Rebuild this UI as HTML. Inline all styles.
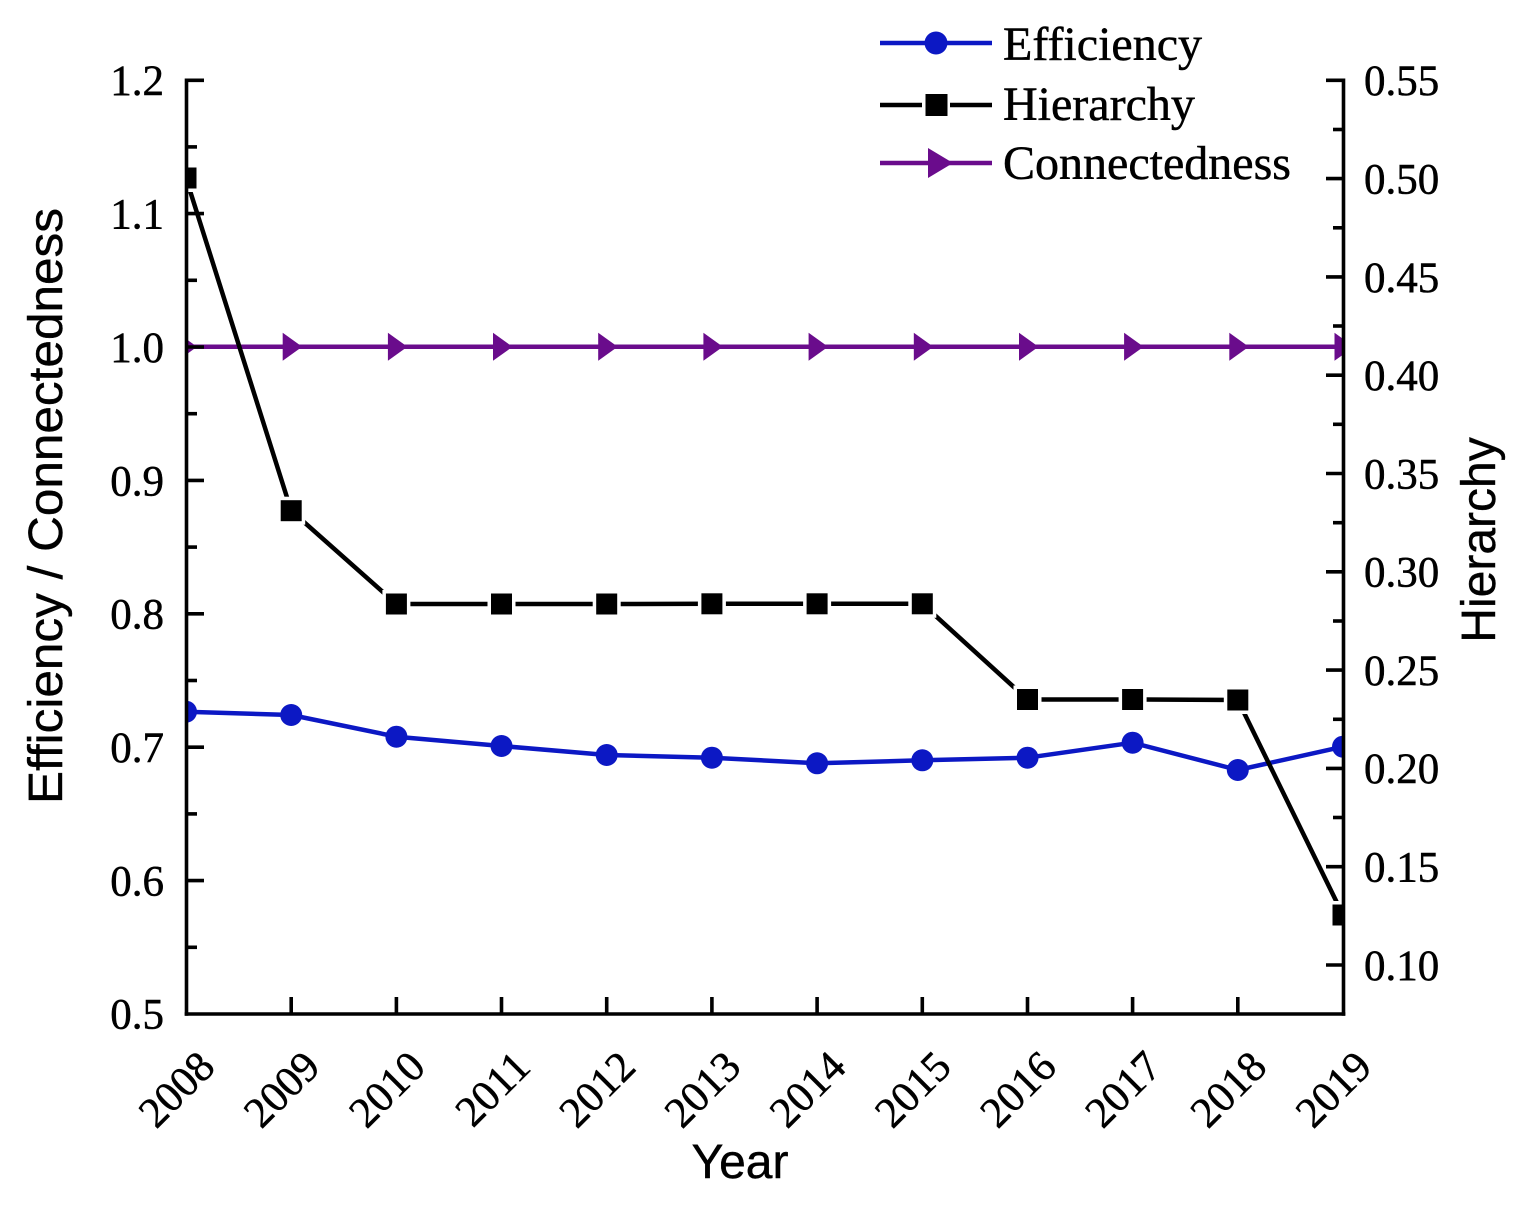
<!DOCTYPE html>
<html>
<head>
<meta charset="utf-8">
<style>
  html, body { margin:0; padding:0; background:#ffffff; }
  svg { display:block; }
  .tk { font-family: "Liberation Serif", "Times New Roman", serif; font-size:43px; fill:#000; stroke:#000; stroke-width:0.5; }
  .lg { font-family: "Liberation Serif", "Times New Roman", serif; font-size:48px; fill:#000; stroke:#000; stroke-width:0.5; }
  .ttl { font-family: "Liberation Sans", Arial, sans-serif; font-size:48px; fill:#000; stroke:#000; stroke-width:0.4; }
</style>
</head>
<body>
<svg width="1527" height="1214" viewBox="0 0 1527 1214" xmlns="http://www.w3.org/2000/svg">
  <defs>
    <clipPath id="plot">
      <rect x="186" y="0" width="1157.5" height="1014"/>
    </clipPath>
  </defs>
  <rect width="1527" height="1214" fill="#fff"/>

  <g clip-path="url(#plot)">
    <!-- Connectedness -->
    <g fill="#6a0c8c" stroke="none">
      <line x1="186" y1="346.8" x2="1343" y2="346.8" stroke="#6a0c8c" stroke-width="4.5"/>
      <polygon points="177.5,332.8 177.5,360.8 197,346.8"/>
      <polygon points="282.7,332.8 282.7,360.8 302.2,346.8"/>
      <polygon points="387.9,332.8 387.9,360.8 407.4,346.8"/>
      <polygon points="493,332.8 493,360.8 512.5,346.8"/>
      <polygon points="598.2,332.8 598.2,360.8 617.7,346.8"/>
      <polygon points="703.4,332.8 703.4,360.8 722.9,346.8"/>
      <polygon points="808.6,332.8 808.6,360.8 828.1,346.8"/>
      <polygon points="913.8,332.8 913.8,360.8 933.3,346.8"/>
      <polygon points="1019,332.8 1019,360.8 1038.5,346.8"/>
      <polygon points="1124.1,332.8 1124.1,360.8 1143.6,346.8"/>
      <polygon points="1229.3,332.8 1229.3,360.8 1248.8,346.8"/>
      <polygon points="1334.5,332.8 1334.5,360.8 1354,346.8"/>
    </g>

    <!-- Efficiency -->
    <polyline fill="none" stroke="#0c18c4" stroke-width="4.5" stroke-linejoin="round"
      points="186,711.7 291.2,715 396.4,736.7 501.5,746 606.7,755 711.9,757.7 817.1,763.3 922.3,760.3 1027.5,757.7 1132.6,742.7 1237.8,770 1343,746.7"/>
    <g fill="#0c18c4">
      <circle cx="186" cy="711.7" r="11"/>
      <circle cx="291.2" cy="715" r="11"/>
      <circle cx="396.4" cy="736.7" r="11"/>
      <circle cx="501.5" cy="746" r="11"/>
      <circle cx="606.7" cy="755" r="11"/>
      <circle cx="711.9" cy="757.7" r="11"/>
      <circle cx="817.1" cy="763.3" r="11"/>
      <circle cx="922.3" cy="760.3" r="11"/>
      <circle cx="1027.5" cy="757.7" r="11"/>
      <circle cx="1132.6" cy="742.7" r="11"/>
      <circle cx="1237.8" cy="770" r="11"/>
      <circle cx="1343" cy="746.7" r="11"/>
    </g>

    <!-- Hierarchy -->
    <polyline fill="none" stroke="#000" stroke-width="4.5" stroke-linejoin="miter"
      points="186,178 291.2,510.7 396.4,604 501.5,604 606.7,604 711.9,603.8 817.1,603.8 922.3,603.8 1027.5,699.5 1132.6,699.5 1237.8,700 1343,915"/>
    <g fill="#fff">
      <rect x="172" y="164" width="28" height="28"/>
      <rect x="277.2" y="496.7" width="28" height="28"/>
      <rect x="382.4" y="590" width="28" height="28"/>
      <rect x="487.5" y="590" width="28" height="28"/>
      <rect x="592.7" y="590" width="28" height="28"/>
      <rect x="697.9" y="589.8" width="28" height="28"/>
      <rect x="803.1" y="589.8" width="28" height="28"/>
      <rect x="908.3" y="589.8" width="28" height="28"/>
      <rect x="1013.5" y="685.5" width="28" height="28"/>
      <rect x="1118.6" y="685.5" width="28" height="28"/>
      <rect x="1223.8" y="686" width="28" height="28"/>
      <rect x="1329" y="901" width="28" height="28"/>
    </g>
    <g fill="#000">
      <rect x="175.5" y="167.5" width="21" height="21"/>
      <rect x="280.7" y="500.2" width="21" height="21"/>
      <rect x="385.9" y="593.5" width="21" height="21"/>
      <rect x="491" y="593.5" width="21" height="21"/>
      <rect x="596.2" y="593.5" width="21" height="21"/>
      <rect x="701.4" y="593.3" width="21" height="21"/>
      <rect x="806.6" y="593.3" width="21" height="21"/>
      <rect x="911.8" y="593.3" width="21" height="21"/>
      <rect x="1017" y="689" width="21" height="21"/>
      <rect x="1122.1" y="689" width="21" height="21"/>
      <rect x="1227.3" y="689.5" width="21" height="21"/>
      <rect x="1332.5" y="904.5" width="21" height="21"/>
    </g>
  </g>

  <!-- Axes -->
  <g stroke="#000" stroke-width="3.6" fill="none" stroke-linecap="butt">
    <line x1="186.5" y1="78.5" x2="186.5" y2="1015.8"/>
    <line x1="184.7" y1="1014" x2="1345.3" y2="1014"/>
    <line x1="1343.5" y1="78.5" x2="1343.5" y2="1015.8"/>
    <!-- left major ticks -->
    <line x1="186" y1="80.3" x2="204" y2="80.3"/>
    <line x1="186" y1="213.6" x2="204" y2="213.6"/>
    <line x1="186" y1="347" x2="204" y2="347"/>
    <line x1="186" y1="480.4" x2="204" y2="480.4"/>
    <line x1="186" y1="613.8" x2="204" y2="613.8"/>
    <line x1="186" y1="747.2" x2="204" y2="747.2"/>
    <line x1="186" y1="880.6" x2="204" y2="880.6"/>
    <!-- left minor ticks -->
    <line x1="186" y1="146.9" x2="197" y2="146.9"/>
    <line x1="186" y1="280.3" x2="197" y2="280.3"/>
    <line x1="186" y1="413.7" x2="197" y2="413.7"/>
    <line x1="186" y1="547.1" x2="197" y2="547.1"/>
    <line x1="186" y1="680.5" x2="197" y2="680.5"/>
    <line x1="186" y1="813.9" x2="197" y2="813.9"/>
    <line x1="186" y1="947.3" x2="197" y2="947.3"/>
    <!-- right major ticks -->
    <line x1="1344" y1="80.3" x2="1326" y2="80.3"/>
    <line x1="1344" y1="178.6" x2="1326" y2="178.6"/>
    <line x1="1344" y1="276.9" x2="1326" y2="276.9"/>
    <line x1="1344" y1="375.2" x2="1326" y2="375.2"/>
    <line x1="1344" y1="473.5" x2="1326" y2="473.5"/>
    <line x1="1344" y1="571.8" x2="1326" y2="571.8"/>
    <line x1="1344" y1="670.1" x2="1326" y2="670.1"/>
    <line x1="1344" y1="768.4" x2="1326" y2="768.4"/>
    <line x1="1344" y1="866.7" x2="1326" y2="866.7"/>
    <line x1="1344" y1="965" x2="1326" y2="965"/>
    <!-- right minor ticks -->
    <line x1="1344" y1="129.5" x2="1333" y2="129.5"/>
    <line x1="1344" y1="227.8" x2="1333" y2="227.8"/>
    <line x1="1344" y1="326" x2="1333" y2="326"/>
    <line x1="1344" y1="424.3" x2="1333" y2="424.3"/>
    <line x1="1344" y1="522.7" x2="1333" y2="522.7"/>
    <line x1="1344" y1="621" x2="1333" y2="621"/>
    <line x1="1344" y1="719.3" x2="1333" y2="719.3"/>
    <line x1="1344" y1="817.5" x2="1333" y2="817.5"/>
    <line x1="1344" y1="915.8" x2="1333" y2="915.8"/>
    <!-- x ticks -->
    <line x1="291.2" y1="1014" x2="291.2" y2="997"/>
    <line x1="396.4" y1="1014" x2="396.4" y2="997"/>
    <line x1="501.5" y1="1014" x2="501.5" y2="997"/>
    <line x1="606.7" y1="1014" x2="606.7" y2="997"/>
    <line x1="711.9" y1="1014" x2="711.9" y2="997"/>
    <line x1="817.1" y1="1014" x2="817.1" y2="997"/>
    <line x1="922.3" y1="1014" x2="922.3" y2="997"/>
    <line x1="1027.5" y1="1014" x2="1027.5" y2="997"/>
    <line x1="1132.6" y1="1014" x2="1132.6" y2="997"/>
    <line x1="1237.8" y1="1014" x2="1237.8" y2="997"/>
  </g>

  <!-- Left tick labels -->
  <g class="tk" text-anchor="end">
    <text x="164" y="95">1.2</text>
    <text x="164" y="228.5">1.1</text>
    <text x="164" y="362">1.0</text>
    <text x="164" y="495.5">0.9</text>
    <text x="164" y="628.5">0.8</text>
    <text x="164" y="762">0.7</text>
    <text x="164" y="895.5">0.6</text>
    <text x="164" y="1028.5">0.5</text>
  </g>

  <!-- Right tick labels -->
  <g class="tk" text-anchor="start">
    <text x="1364" y="95">0.55</text>
    <text x="1364" y="193.5">0.50</text>
    <text x="1364" y="292">0.45</text>
    <text x="1364" y="390">0.40</text>
    <text x="1364" y="488.5">0.35</text>
    <text x="1364" y="586.5">0.30</text>
    <text x="1364" y="685">0.25</text>
    <text x="1364" y="783">0.20</text>
    <text x="1364" y="881.5">0.15</text>
    <text x="1364" y="980">0.10</text>
  </g>

  <!-- X tick labels -->
  <g class="tk" text-anchor="end">
    <text transform="translate(217,1069) rotate(-45)">2008</text>
    <text transform="translate(322.2,1069) rotate(-45)">2009</text>
    <text transform="translate(427.4,1069) rotate(-45)">2010</text>
    <text transform="translate(532.5,1069) rotate(-45)">2011</text>
    <text transform="translate(637.7,1069) rotate(-45)">2012</text>
    <text transform="translate(742.9,1069) rotate(-45)">2013</text>
    <text transform="translate(848.1,1069) rotate(-45)">2014</text>
    <text transform="translate(953.3,1069) rotate(-45)">2015</text>
    <text transform="translate(1058.5,1069) rotate(-45)">2016</text>
    <text transform="translate(1163.6,1069) rotate(-45)">2017</text>
    <text transform="translate(1268.8,1069) rotate(-45)">2018</text>
    <text transform="translate(1374,1069) rotate(-45)">2019</text>
  </g>

  <!-- Axis titles -->
  <text class="ttl" x="740" y="1178" text-anchor="middle">Year</text>
  <text class="ttl" transform="translate(62,506) rotate(-90)" text-anchor="middle" font-size="49" textLength="596" lengthAdjust="spacingAndGlyphs">Efficiency  / Connectedness</text>
  <text class="ttl" transform="translate(1495,540) rotate(-90)" text-anchor="middle">Hierarchy</text>

  <!-- Legend -->
  <g>
    <line x1="880" y1="43" x2="992" y2="43" stroke="#0c18c4" stroke-width="4.5"/>
    <circle cx="936" cy="43" r="11.5" fill="#0c18c4"/>
    <line x1="880" y1="105" x2="922" y2="105" stroke="#000" stroke-width="4.5"/>
    <line x1="950" y1="105" x2="992" y2="105" stroke="#000" stroke-width="4.5"/>
    <rect x="925.5" y="94" width="22" height="22" fill="#000"/>
    <line x1="880" y1="163" x2="992" y2="163" stroke="#6a0c8c" stroke-width="4.5"/>
    <polygon points="928,148 928,178 953,163" fill="#6a0c8c"/>
    <text class="lg" x="1003" y="60">Efficiency</text>
    <text class="lg" x="1003" y="120">Hierarchy</text>
    <text class="lg" x="1003" y="179">Connectedness</text>
  </g>
</svg>
</body>
</html>
